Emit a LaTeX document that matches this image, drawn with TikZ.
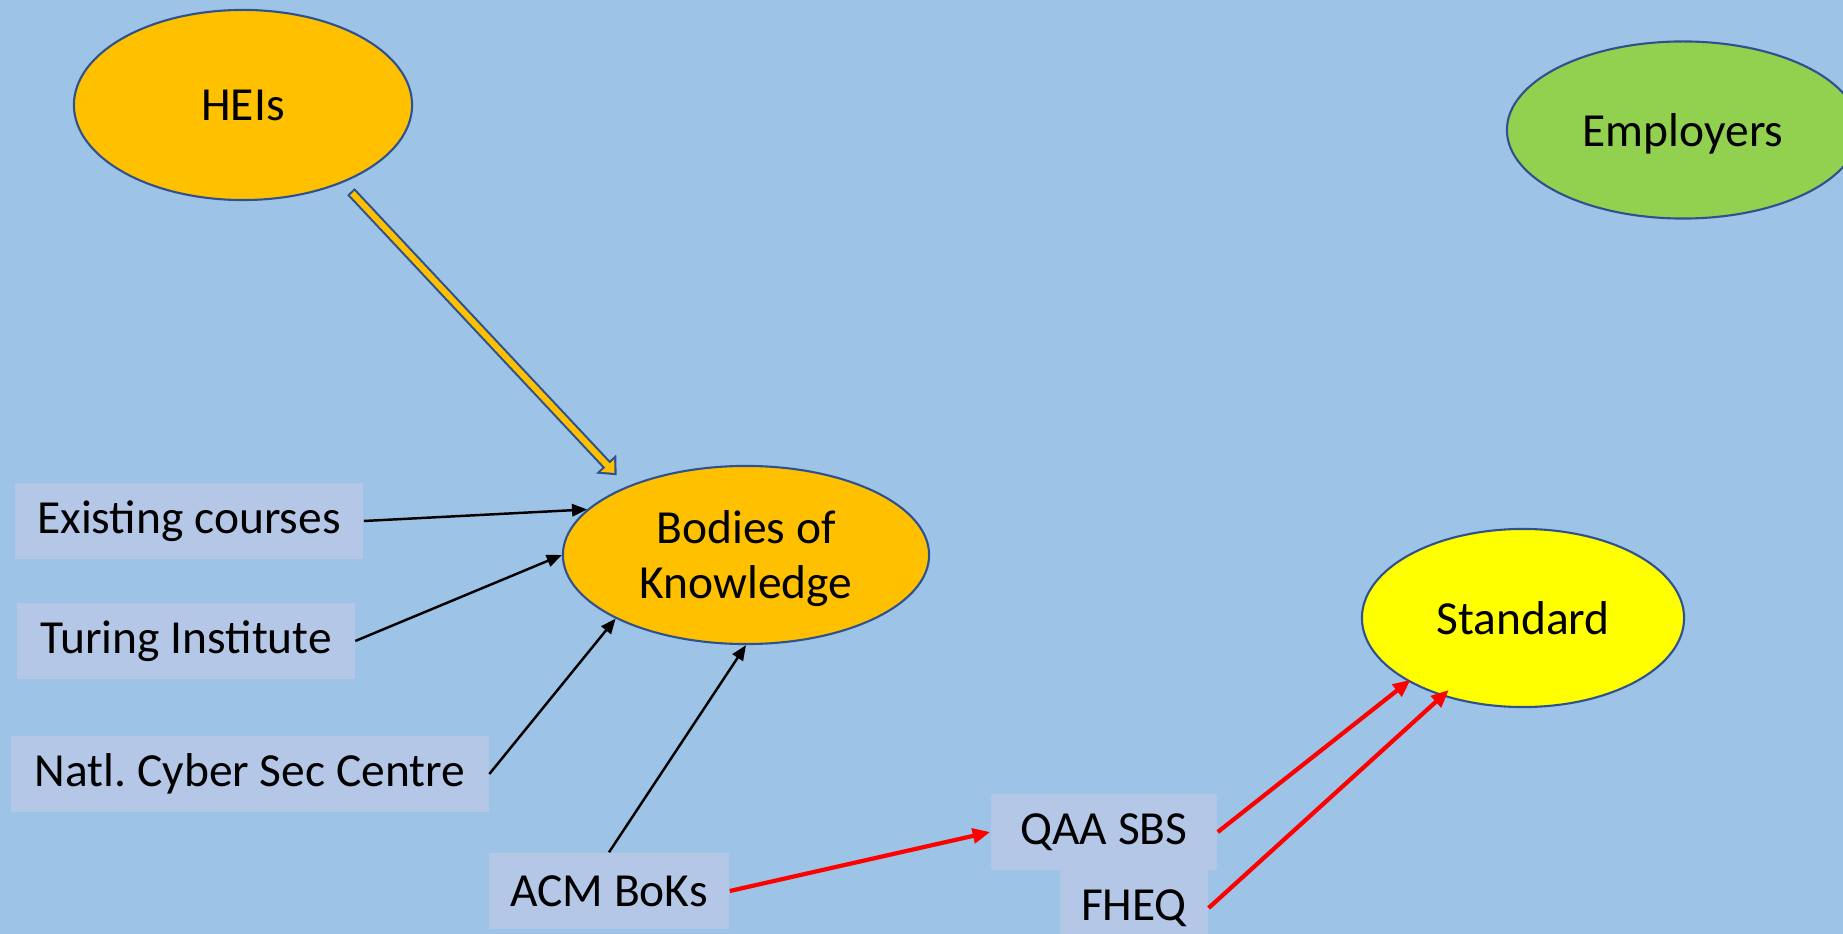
\documentclass[tikz,border=0pt]{standalone}
\usepackage{fontspec}
\setmainfont{Carlito}
\usetikzlibrary{shapes.geometric,arrows.meta}
\definecolor{bgblue}{HTML}{9DC3E6}
\definecolor{boxblue}{HTML}{B4C7E7}
\definecolor{edgeblue}{HTML}{2F528F}
\definecolor{heiorange}{HTML}{FFC000}
\definecolor{empgreen}{HTML}{92D050}
\definecolor{stdyellow}{HTML}{FFFF00}

\begin{document}
\begin{tikzpicture}[x = .01cm, y = -.01cm,
		blob/.style = {ellipse, draw = edgeblue, line width = .6pt, inner sep = 0pt, align = center},
		box/.style = {fill = boxblue, minimum height = .76cm, inner xsep = .21cm},
		feed/.style = {-{Triangle[length = 4.3pt, width = 3.5pt]}, line width = .7pt},
		redfeed/.style = {-{Triangle[length = 5pt, width = 4.2pt]}, red, line width = 1.2pt},
		blockedge/.style = {edgeblue, line width = 2.9pt, -{Triangle[length = 4.4pt, width = 7.6pt]}},
		blockfill/.style = {heiorange, line width = 1.7pt, -{Triangle[length = 2.9pt, width = 5pt]}}]
		\tikzstyle{every node} = [font = \fontsize{13.5}{15.6}\selectfont]
		\fill [bgblue] (0,0) rectangle (1843,934);
		\useasboundingbox (0,0) rectangle (1843,934);

		% the ellipses
		\node [blob, fill = heiorange, minimum width = 3.38cm, minimum height = 1.9cm] (hei) at (243,105) {HEIs};
		\node [blob, fill = empgreen, minimum width = 3.52cm, minimum height = 1.77cm, text depth = 0pt] (emp) at (1683,130) {Employers};
		\node [blob, fill = heiorange, minimum width = 3.66cm, minimum height = 1.78cm] (bok) at (746,555)
			{\raisebox{-.05cm}[\height][\depth]{\begin{tabular}{@{}c@{}}Bodies of\\Knowledge\end{tabular}}};
		\node [blob, fill = stdyellow, minimum width = 3.22cm, minimum height = 1.78cm] (std) at (1523,618) {Standard};

		% the sources
		\node [box, minimum width = 3.48cm] (ec) at (189,521) {Existing courses};
		\node [box, minimum width = 3.37cm] (ti) at (186,641) {Turing Institute};
		\node [box, minimum width = 4.77cm] (ncsc) at (250,774) {Natl.\ Cyber Sec Centre};
		\node [box, minimum width = 2.40cm] (acm) at (609,891) {ACM BoKs};
		\node [box, minimum width = 2.26cm] (qaa) at (1104,832) {QAA SBS};
		\node [box, minimum width = 1.46cm] (fheq) at (1134,908) {FHEQ};

		% HEIs to bodies, outline first then the fill
		\draw [blockedge, shorten < = .12cm, shorten > = .15cm] (hei.322) -- (bok.150);
		\draw [blockfill, shorten < = .14cm, shorten > = .182cm] (hei.322) -- (bok.150);

		\draw [feed] (ec.east) -- (bok.164);
		\draw [feed] (ti.east) -- (bok.west);
		\draw [feed] (ncsc.east) -- (bok.206);
		\draw [feed] (acm.north) -- (bok.south);
		\draw [redfeed] (acm.east) -- (qaa.west);
		\draw [redfeed, shorten > = -.03cm] (qaa.east) -- (std.209);
		\draw [redfeed, shorten > = -.09cm] (fheq.east) -- (std.224);
	\end{tikzpicture}
\end{document}
